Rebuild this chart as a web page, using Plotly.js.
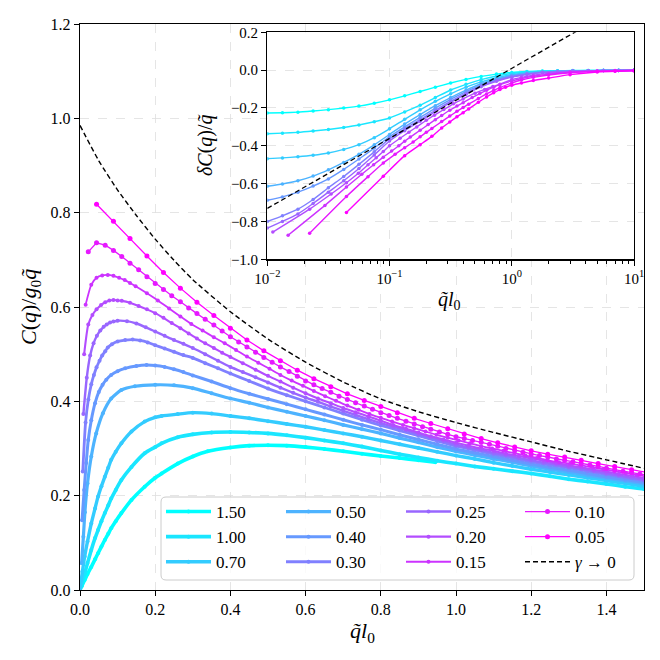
<!DOCTYPE html>
<html>
<head>
<meta charset="utf-8">
<script src="https://cdn.plot.ly/plotly-3.0.1.min.js"></script>
<style>
html, body { margin: 0; padding: 0; background: #fff; }
#chart { width: 660px; height: 660px; }
</style>
</head>
<body>
<div id="chart"></div>
<script>
// legend labels, one per gamma, from 1.50 down to 0.05
var gammas = ['1.50', '1.00', '0.70', '0.50', '0.40', '0.30', '0.25', '0.20', '0.15', '0.10', '0.05'];

// ---- main panel: C(q)/g0q vs q l0 ----
var q150 = [0, 0.0045, 0.0124, 0.020, 0.030, 0.040, 0.048, 0.057, 0.066, 0.075, 0.083, 0.095, 0.110, 0.137, 0.172, 0.200, 0.217, 0.260, 0.300, 0.340, 0.400, 0.450, 0.500, 0.550, 0.600, 0.650, 0.700, 0.750, 0.800, 0.850, 0.900, 0.945];
var c150 = [0, 0.008, 0.021, 0.034, 0.049, 0.065, 0.078, 0.092, 0.106, 0.119, 0.131, 0.146, 0.163, 0.191, 0.219, 0.238, 0.247, 0.268, 0.283, 0.294, 0.302, 0.306, 0.307, 0.306, 0.303, 0.299, 0.294, 0.289, 0.284, 0.280, 0.275, 0.271];

var q100 = [0, 0.0045, 0.0124, 0.020, 0.030, 0.040, 0.048, 0.057, 0.066, 0.075, 0.083, 0.095, 0.110, 0.137, 0.172, 0.200, 0.217, 0.260, 0.300, 0.350, 0.400, 0.450, 0.500, 0.550, 0.600, 0.650, 0.700, 0.750, 0.800, 0.850, 0.900, 0.950, 1.000, 1.050, 1.100, 1.150, 1.200, 1.250, 1.300, 1.350, 1.400, 1.450, 1.500];
var c100 = [0, 0.013, 0.035, 0.057, 0.085, 0.110, 0.127, 0.146, 0.163, 0.179, 0.194, 0.212, 0.233, 0.261, 0.290, 0.303, 0.311, 0.324, 0.330, 0.334, 0.335, 0.334, 0.332, 0.328, 0.323, 0.317, 0.311, 0.304, 0.296, 0.288, 0.281, 0.274, 0.268, 0.262, 0.257, 0.252, 0.247, 0.241, 0.235, 0.230, 0.225, 0.219, 0.214];

var q070 = [0, 0.0032, 0.0064, 0.0124, 0.020, 0.030, 0.040, 0.048, 0.057, 0.066, 0.075, 0.083, 0.095, 0.110, 0.137, 0.172, 0.200, 0.217, 0.260, 0.300, 0.350, 0.400, 0.450, 0.500, 0.550, 0.600, 0.650, 0.700, 0.750, 0.800, 0.850, 0.900, 0.950, 1.000, 1.050, 1.100, 1.150, 1.200, 1.250, 1.300, 1.350, 1.400, 1.450, 1.500];
var c070 = [0, 0.020, 0.039, 0.071, 0.103, 0.141, 0.173, 0.198, 0.220, 0.240, 0.259, 0.276, 0.293, 0.311, 0.336, 0.357, 0.366, 0.369, 0.373, 0.376, 0.374, 0.369, 0.364, 0.358, 0.352, 0.346, 0.339, 0.332, 0.325, 0.317, 0.309, 0.301, 0.293, 0.285, 0.278, 0.270, 0.263, 0.256, 0.250, 0.244, 0.238, 0.232, 0.226, 0.220];

var q050 = [0.0044, 0.009, 0.013, 0.020, 0.030, 0.043, 0.061, 0.083, 0.110, 0.146, 0.200, 0.250, 0.300, 0.350, 0.400, 0.450, 0.500, 0.550, 0.600, 0.650, 0.700, 0.750, 0.800, 0.850, 0.900, 0.950, 1.000, 1.050, 1.100, 1.150, 1.200, 1.250, 1.300, 1.350, 1.400, 1.450, 1.500];
var c050 = [0.057, 0.113, 0.165, 0.226, 0.283, 0.332, 0.375, 0.406, 0.424, 0.432, 0.435, 0.434, 0.428, 0.417, 0.406, 0.397, 0.387, 0.378, 0.369, 0.360, 0.350, 0.341, 0.332, 0.322, 0.313, 0.303, 0.294, 0.286, 0.278, 0.271, 0.263, 0.256, 0.250, 0.243, 0.237, 0.231, 0.225];

var q040 = [0.0055, 0.011, 0.0165, 0.022, 0.030, 0.040, 0.050, 0.060, 0.070, 0.083, 0.100, 0.120, 0.150, 0.177, 0.200, 0.225, 0.250, 0.275, 0.300, 0.350, 0.400, 0.450, 0.500, 0.550, 0.600, 0.650, 0.700, 0.750, 0.800, 0.850, 0.900, 0.950, 1.000, 1.050, 1.100, 1.150, 1.200, 1.250, 1.300, 1.350, 1.400, 1.450, 1.500];
var c040 = [0.148, 0.212, 0.269, 0.318, 0.360, 0.396, 0.420, 0.435, 0.446, 0.456, 0.464, 0.470, 0.475, 0.477, 0.476, 0.473, 0.468, 0.462, 0.455, 0.442, 0.428, 0.416, 0.405, 0.394, 0.383, 0.372, 0.361, 0.350, 0.340, 0.329, 0.319, 0.309, 0.299, 0.291, 0.283, 0.275, 0.267, 0.260, 0.254, 0.247, 0.240, 0.234, 0.228];

var q030 = [0.0074, 0.0148, 0.0222, 0.030, 0.037, 0.044, 0.052, 0.059, 0.067, 0.074, 0.085, 0.100, 0.120, 0.140, 0.160, 0.180, 0.200, 0.225, 0.250, 0.275, 0.300, 0.333, 0.367, 0.400, 0.450, 0.500, 0.550, 0.600, 0.650, 0.700, 0.750, 0.800, 0.850, 0.900, 0.950, 1.000, 1.050, 1.100, 1.150, 1.200, 1.250, 1.300, 1.350, 1.400, 1.450, 1.500];
var c030 = [0.251, 0.355, 0.404, 0.436, 0.456, 0.472, 0.486, 0.497, 0.506, 0.514, 0.521, 0.527, 0.530, 0.531, 0.529, 0.525, 0.519, 0.512, 0.505, 0.498, 0.492, 0.481, 0.470, 0.459, 0.443, 0.427, 0.413, 0.400, 0.387, 0.374, 0.361, 0.349, 0.338, 0.327, 0.316, 0.305, 0.297, 0.288, 0.280, 0.272, 0.265, 0.259, 0.252, 0.245, 0.238, 0.232];

var q025 = [0.009, 0.018, 0.027, 0.036, 0.045, 0.054, 0.063, 0.071, 0.080, 0.089, 0.100, 0.125, 0.150, 0.175, 0.200, 0.225, 0.250, 0.275, 0.300, 0.333, 0.367, 0.400, 0.433, 0.467, 0.500, 0.533, 0.567, 0.600, 0.633, 0.667, 0.700, 0.733, 0.767, 0.800, 0.833, 0.867, 0.900, 0.933, 0.967, 1.000, 1.033, 1.067, 1.100, 1.133, 1.167, 1.200, 1.233, 1.267, 1.300, 1.333, 1.367, 1.400, 1.433, 1.467, 1.500];
var c025 = [0.373, 0.450, 0.497, 0.523, 0.539, 0.550, 0.558, 0.563, 0.567, 0.569, 0.571, 0.570, 0.565, 0.557, 0.548, 0.539, 0.530, 0.522, 0.513, 0.500, 0.486, 0.473, 0.462, 0.451, 0.440, 0.429, 0.418, 0.408, 0.399, 0.389, 0.380, 0.371, 0.362, 0.354, 0.346, 0.339, 0.331, 0.323, 0.316, 0.308, 0.302, 0.297, 0.291, 0.286, 0.280, 0.275, 0.270, 0.266, 0.261, 0.257, 0.252, 0.247, 0.243, 0.238, 0.234];

var q020 = [0.011, 0.022, 0.033, 0.044, 0.056, 0.067, 0.078, 0.089, 0.100, 0.111, 0.133, 0.156, 0.178, 0.200, 0.222, 0.244, 0.267, 0.289, 0.311, 0.333, 0.356, 0.378, 0.400, 0.433, 0.467, 0.500, 0.533, 0.567, 0.600, 0.633, 0.667, 0.700, 0.733, 0.767, 0.800, 0.833, 0.867, 0.900, 0.933, 0.967, 1.000, 1.033, 1.067, 1.100, 1.133, 1.167, 1.200, 1.233, 1.267, 1.300, 1.333, 1.367, 1.400, 1.433, 1.467, 1.500];
var c020 = [0.500, 0.563, 0.583, 0.595, 0.604, 0.610, 0.614, 0.615, 0.614, 0.613, 0.609, 0.602, 0.595, 0.587, 0.577, 0.566, 0.555, 0.544, 0.533, 0.523, 0.513, 0.503, 0.494, 0.481, 0.467, 0.454, 0.442, 0.429, 0.417, 0.406, 0.396, 0.386, 0.377, 0.368, 0.359, 0.350, 0.342, 0.334, 0.326, 0.319, 0.312, 0.306, 0.300, 0.295, 0.289, 0.284, 0.279, 0.274, 0.269, 0.264, 0.260, 0.255, 0.251, 0.246, 0.242, 0.237];

var q015 = [0.015, 0.030, 0.044, 0.059, 0.074, 0.089, 0.104, 0.119, 0.133, 0.148, 0.178, 0.207, 0.237, 0.267, 0.296, 0.326, 0.356, 0.385, 0.415, 0.444, 0.474, 0.504, 0.533, 0.563, 0.593, 0.622, 0.652, 0.681, 0.711, 0.741, 0.770, 0.800, 0.830, 0.859, 0.889, 0.919, 0.948, 0.978, 1.007, 1.037, 1.067, 1.096, 1.126, 1.156, 1.185, 1.215, 1.244, 1.274, 1.304, 1.333, 1.363, 1.393, 1.422, 1.452, 1.481, 1.511];
var c015 = [0.605, 0.647, 0.662, 0.667, 0.668, 0.666, 0.662, 0.657, 0.651, 0.644, 0.629, 0.614, 0.597, 0.580, 0.564, 0.550, 0.536, 0.523, 0.509, 0.495, 0.482, 0.469, 0.456, 0.444, 0.433, 0.422, 0.411, 0.401, 0.391, 0.382, 0.373, 0.365, 0.357, 0.350, 0.343, 0.336, 0.329, 0.323, 0.317, 0.311, 0.305, 0.300, 0.295, 0.290, 0.285, 0.280, 0.275, 0.271, 0.268, 0.264, 0.260, 0.256, 0.252, 0.248, 0.244, 0.240];

var q010 = [0.022, 0.044, 0.067, 0.089, 0.111, 0.133, 0.156, 0.178, 0.200, 0.222, 0.244, 0.267, 0.289, 0.311, 0.333, 0.356, 0.378, 0.400, 0.422, 0.444, 0.467, 0.489, 0.511, 0.533, 0.556, 0.578, 0.600, 0.622, 0.644, 0.667, 0.689, 0.711, 0.733, 0.756, 0.778, 0.800, 0.822, 0.844, 0.867, 0.889, 0.911, 0.933, 0.956, 0.978, 1.000, 1.022, 1.044, 1.067, 1.089, 1.111, 1.133, 1.156, 1.178, 1.200, 1.222, 1.244, 1.267, 1.289, 1.311, 1.333, 1.356, 1.378, 1.400, 1.422, 1.444, 1.467, 1.489, 1.511];
var c010 = [0.717, 0.736, 0.731, 0.720, 0.707, 0.693, 0.679, 0.664, 0.650, 0.637, 0.624, 0.611, 0.598, 0.586, 0.574, 0.562, 0.549, 0.537, 0.526, 0.515, 0.504, 0.493, 0.483, 0.473, 0.463, 0.453, 0.443, 0.435, 0.427, 0.419, 0.411, 0.404, 0.397, 0.390, 0.383, 0.376, 0.370, 0.364, 0.358, 0.352, 0.346, 0.341, 0.335, 0.330, 0.325, 0.321, 0.317, 0.313, 0.309, 0.305, 0.300, 0.296, 0.292, 0.288, 0.285, 0.282, 0.278, 0.275, 0.272, 0.268, 0.265, 0.262, 0.258, 0.255, 0.252, 0.249, 0.246, 0.243];

var q005 = [0.044, 0.089, 0.133, 0.178, 0.222, 0.267, 0.311, 0.356, 0.400, 0.444, 0.489, 0.533, 0.578, 0.622, 0.667, 0.711, 0.756, 0.800, 0.844, 0.889, 0.933, 0.978, 1.022, 1.067, 1.111, 1.156, 1.200, 1.244, 1.289, 1.333, 1.378, 1.422, 1.467, 1.511];
var c005 = [0.818, 0.782, 0.745, 0.708, 0.673, 0.640, 0.610, 0.582, 0.555, 0.530, 0.507, 0.486, 0.466, 0.448, 0.431, 0.416, 0.402, 0.389, 0.376, 0.364, 0.353, 0.342, 0.331, 0.321, 0.312, 0.303, 0.295, 0.288, 0.282, 0.275, 0.268, 0.262, 0.255, 0.249];

// gamma -> 0 limit (dashed)
var qDash = [0, 0.05, 0.1, 0.15, 0.2, 0.25, 0.3, 0.4, 0.5, 0.6, 0.7, 0.8, 0.9, 1.0, 1.1, 1.2, 1.3, 1.4, 1.5];
var cDash = [0.985, 0.910, 0.848, 0.794, 0.744, 0.699, 0.658, 0.590, 0.532, 0.483, 0.441, 0.405, 0.378, 0.355, 0.334, 0.314, 0.294, 0.276, 0.258];

// ---- inset: deltaC(q)/q vs q l0 (log x) ----
var qIn = [0.01, 0.0133, 0.0178, 0.0237, 0.0316, 0.0422, 0.0562, 0.075, 0.1, 0.133, 0.178, 0.237, 0.316, 0.422, 0.562, 0.75, 1, 1.33, 1.78, 2.37, 3.16, 4.22, 5.62, 7.5, 10];
var d150 = [-0.227, -0.225, -0.222, -0.216, -0.209, -0.200, -0.190, -0.175, -0.157, -0.136, -0.113, -0.090, -0.068, -0.049, -0.033, -0.021, -0.012, -0.007, -0.004, -0.003, -0.002, -0.002, -0.001, -0.001, -0.001];
var d100 = [-0.336, -0.333, -0.329, -0.322, -0.314, -0.303, -0.290, -0.273, -0.253, -0.221, -0.185, -0.145, -0.105, -0.075, -0.050, -0.031, -0.018, -0.010, -0.006, -0.004, -0.003, -0.002, -0.002, -0.001, -0.001];
var d070 = [-0.468, -0.464, -0.458, -0.450, -0.438, -0.419, -0.394, -0.357, -0.310, -0.260, -0.210, -0.165, -0.125, -0.090, -0.062, -0.040, -0.024, -0.014, -0.008, -0.005, -0.004, -0.003, -0.002, -0.002, -0.001];
var d050 = [-0.614, -0.602, -0.585, -0.560, -0.527, -0.488, -0.445, -0.395, -0.340, -0.285, -0.235, -0.188, -0.145, -0.106, -0.072, -0.047, -0.028, -0.017, -0.010, -0.006, -0.004, -0.003, -0.002, -0.002, -0.001];
var d040 = [-0.688, -0.670, -0.645, -0.613, -0.575, -0.525, -0.470, -0.412, -0.352, -0.300, -0.250, -0.201, -0.155, -0.114, -0.078, -0.051, -0.031, -0.019, -0.011, -0.007, -0.005, -0.003, -0.002, -0.002, -0.001];
var d030 = [-0.800, -0.770, -0.735, -0.684, -0.622, -0.562, -0.498, -0.432, -0.362, -0.310, -0.262, -0.212, -0.165, -0.122, -0.084, -0.056, -0.034, -0.021, -0.012, -0.008, -0.005, -0.003, -0.002, -0.002, -0.001];
var d025 = [-0.835, -0.800, -0.760, -0.705, -0.645, -0.585, -0.520, -0.448, -0.375, -0.320, -0.270, -0.219, -0.171, -0.127, -0.088, -0.059, -0.037, -0.023, -0.013, -0.008, -0.005, -0.003, -0.002, -0.002, -0.001];

var qIn020 = [0.0111, 0.0222, 0.0333, 0.0444, 0.0556, 0.0667, 0.0778, 0.0889, 0.1, 0.122, 0.144, 0.167, 0.2, 0.233, 0.278, 0.333, 0.4, 0.5, 0.6, 0.7, 0.8, 1.0, 1.2, 1.5, 2, 3, 5, 7, 10];
var d020 = [-0.856, -0.735, -0.655, -0.595, -0.545, -0.500, -0.463, -0.430, -0.400, -0.360, -0.328, -0.300, -0.265, -0.238, -0.208, -0.178, -0.152, -0.122, -0.102, -0.087, -0.074, -0.050, -0.038, -0.027, -0.017, -0.009, -0.004, -0.002, -0.001];

var qIn015 = [0.0148, 0.0296, 0.0444, 0.0593, 0.0741, 0.0889, 0.104, 0.119, 0.133, 0.148, 0.178, 0.207, 0.237, 0.267, 0.311, 0.356, 0.4, 0.474, 0.548, 0.622, 0.711, 0.8, 1.0, 1.2, 1.5, 2, 3, 5, 7, 10];
var d015 = [-0.873, -0.715, -0.618, -0.550, -0.500, -0.460, -0.428, -0.400, -0.376, -0.354, -0.318, -0.288, -0.262, -0.240, -0.212, -0.190, -0.172, -0.145, -0.124, -0.107, -0.090, -0.077, -0.057, -0.044, -0.032, -0.021, -0.011, -0.005, -0.003, -0.002];

var qIn010 = [0.0222, 0.0444, 0.0667, 0.0889, 0.111, 0.133, 0.156, 0.178, 0.2, 0.222, 0.267, 0.311, 0.356, 0.4, 0.444, 0.533, 0.622, 0.711, 0.8, 1.0, 1.2, 1.5, 2, 3, 5, 7, 10];
var d010 = [-0.862, -0.668, -0.563, -0.491, -0.445, -0.410, -0.380, -0.352, -0.329, -0.308, -0.272, -0.243, -0.218, -0.197, -0.180, -0.150, -0.126, -0.107, -0.092, -0.068, -0.052, -0.038, -0.026, -0.014, -0.006, -0.004, -0.002];

var qIn005 = [0.0444, 0.0889, 0.133, 0.178, 0.222, 0.267, 0.311, 0.356, 0.4, 0.444, 0.533, 0.622, 0.711, 0.8, 0.889, 1.0, 1.2, 1.5, 2, 3, 5, 7, 10];
var d005 = [-0.752, -0.561, -0.452, -0.394, -0.350, -0.306, -0.274, -0.247, -0.225, -0.205, -0.170, -0.142, -0.120, -0.103, -0.090, -0.080, -0.068, -0.055, -0.042, -0.024, -0.010, -0.006, -0.004];

var qDashIn = [0.01, 0.0316, 0.1, 0.316, 1, 3.16, 5];
var dDashIn = [-0.731, -0.546, -0.361, -0.176, 0.006, 0.194, 0.268];

// ---- styling ----
var colors = ['#00ffff', '#1ae6ff', '#33ccff', '#4db3ff', '#6699ff', '#8080ff', '#9966ff', '#b34dff', '#cc33ff', '#e619ff', '#ff00ff'];
var mainQ = [q150, q100, q070, q050, q040, q030, q025, q020, q015, q010, q005];
var mainC = [c150, c100, c070, c050, c040, c030, c025, c020, c015, c010, c005];
var inQ = [qIn, qIn, qIn, qIn, qIn, qIn, qIn, qIn020, qIn015, qIn010, qIn005];
var inD = [d150, d100, d070, d050, d040, d030, d025, d020, d015, d010, d005];
var lineW = [3.6, 3.6, 3.4, 3.2, 3.0, 2.8, 2.4, 2.1, 1.8, 1.3, 1.3];
var legendCol = ['legend', 'legend', 'legend', 'legend2', 'legend2', 'legend2', 'legend3', 'legend3', 'legend3', 'legend4', 'legend4'];

var FONT = 'Liberation Serif, DejaVu Serif, serif';
var traces = [];

for (var i = 0; i < gammas.length; i++) {
    traces.push({
        x: mainQ[i], y: mainC[i],
        type: 'scatter', mode: 'lines+markers',
        name: gammas[i],
        legend: legendCol[i],
        line: { color: colors[i], width: lineW[i], shape: i < 9 ? 'spline' : 'linear', smoothing: 0.6 },
        marker: { color: colors[i], size: i < 9 ? 4 : 5 },
        xaxis: 'x', yaxis: 'y'
    });
}
traces.push({
    x: qDash, y: cDash, type: 'scatter', mode: 'lines',
    name: '<i>γ</i> → 0', legend: 'legend4',
    line: { color: 'black', width: 1.4, dash: '5px,3px', shape: 'spline', smoothing: 0.6 },
    xaxis: 'x', yaxis: 'y'
});

for (var j = 0; j < gammas.length; j++) {
    traces.push({
        x: inQ[j], y: inD[j],
        type: 'scatter', mode: 'lines+markers',
        showlegend: false,
        line: { color: colors[j], width: 1.4, shape: 'spline', smoothing: 0.5 },
        marker: { color: colors[j], size: 3.5 },
        xaxis: 'x2', yaxis: 'y2'
    });
}
traces.push({
    x: qDashIn, y: dDashIn, type: 'scatter', mode: 'lines', showlegend: false,
    line: { color: 'black', width: 1.3, dash: '5px,3px' },
    xaxis: 'x2', yaxis: 'y2'
});

var axisBase = {
    showline: true, mirror: true, linecolor: 'black', linewidth: 1.2,
    ticks: 'outside', ticklen: 5, tickwidth: 1, tickcolor: 'black',
    showgrid: true, gridcolor: '#dedede', griddash: 'dash', gridwidth: 0.8,
    zeroline: false
};
function ax(extra) { return Object.assign({}, axisBase, extra); }

// legend frame, rounded like matplotlib's
var lx0 = 161 / 660, lx1 = 634 / 660, ly0 = (660 - 580) / 660, ly1 = (660 - 497) / 660, r = 5 / 660;
var framePath = 'M' + (lx0 + r) + ',' + ly0 + ' L' + (lx1 - r) + ',' + ly0 +
    ' Q' + lx1 + ',' + ly0 + ' ' + lx1 + ',' + (ly0 + r) + ' L' + lx1 + ',' + (ly1 - r) +
    ' Q' + lx1 + ',' + ly1 + ' ' + (lx1 - r) + ',' + ly1 + ' L' + (lx0 + r) + ',' + ly1 +
    ' Q' + lx0 + ',' + ly1 + ' ' + lx0 + ',' + (ly1 - r) + ' L' + lx0 + ',' + (ly0 + r) +
    ' Q' + lx0 + ',' + ly0 + ' ' + (lx0 + r) + ',' + ly0 + ' Z';

function legendAt(px) {
    return {
        x: px / 660, y: (660 - 494) / 660, xanchor: 'left', yanchor: 'top',
        bgcolor: 'rgba(0,0,0,0)', borderwidth: 0,
        font: { family: FONT, size: 17, color: 'black' },
        itemwidth: 45,
        tracegroupgap: 0
    };
}

var layout = {
    width: 660, height: 660,
    margin: { l: 0, r: 0, t: 0, b: 0 },
    paper_bgcolor: 'white', plot_bgcolor: 'white',
    font: { family: FONT, color: 'black' },
    showlegend: true,
    xaxis: ax({
        domain: [80 / 660, 644 / 660], range: [0, 1.5],
        tickvals: [0, 0.2, 0.4, 0.6, 0.8, 1.0, 1.2, 1.4], tickformat: '.1f',
        tickfont: { family: FONT, size: 16 }, anchor: 'y'
    }),
    yaxis: ax({
        domain: [70 / 660, 636 / 660], range: [0, 1.2],
        tickvals: [0, 0.2, 0.4, 0.6, 0.8, 1.0, 1.2], tickformat: '.1f',
        tickfont: { family: FONT, size: 16 }, anchor: 'x'
    }),
    xaxis2: ax({
        domain: [267.3 / 660, 634 / 660], type: 'log', range: [-2, 1],
        tickvals: [0.01, 0.1, 1, 10],
        ticktext: ['10<sup>−2</sup>', '10<sup>−1</sup>', '10<sup>0</sup>', '10<sup>1</sup>'],
        tickfont: { family: FONT, size: 15 }, anchor: 'y2',
        minor: { ticks: 'outside', ticklen: 3, tickcolor: 'black', dtick: 'D1', showgrid: false }
    }),
    yaxis2: ax({
        domain: [(660 - 259.3) / 660, (660 - 32.3) / 660], range: [-1, 0.2],
        tickvals: [-1, -0.8, -0.6, -0.4, -0.2, 0, 0.2], tickformat: '.1f',
        tickfont: { family: FONT, size: 15 }, anchor: 'x2'
    }),
    legend: legendAt(161),
    legend2: legendAt(281),
    legend3: legendAt(401),
    legend4: legendAt(520),
    shapes: [{
        type: 'path', xref: 'paper', yref: 'paper', path: framePath,
        fillcolor: 'rgba(255,255,255,0.8)', line: { color: '#cccccc', width: 1 }, layer: 'above'
    }],
    annotations: [
        { text: '<i>q̃l</i><sub>0</sub>', xref: 'paper', yref: 'paper', x: 362 / 660, y: (660 - 632) / 660,
          showarrow: false, font: { family: FONT, size: 22 }, xanchor: 'center', yanchor: 'middle' },
        { text: '<i>C</i>(<i>q</i>)/<i>g</i><sub>0</sub><i>q̃</i>', xref: 'paper', yref: 'paper', x: 30 / 660, y: (660 - 307) / 660,
          showarrow: false, textangle: -90, font: { family: FONT, size: 22 }, xanchor: 'center', yanchor: 'middle' },
        { text: '<i>q̃l</i><sub>0</sub>', xref: 'paper', yref: 'paper', x: 449 / 660, y: (660 - 300) / 660,
          showarrow: false, font: { family: FONT, size: 20 }, xanchor: 'center', yanchor: 'middle' },
        { text: '<i>δC</i>(<i>q</i>)/<i>q̃</i>', xref: 'paper', yref: 'paper', x: 205 / 660, y: (660 - 145) / 660,
          showarrow: false, textangle: -90, font: { family: FONT, size: 20 }, xanchor: 'center', yanchor: 'middle' }
    ]
};

Plotly.newPlot('chart', traces, layout, { displayModeBar: false, staticPlot: true });
</script>
</body>
</html>
